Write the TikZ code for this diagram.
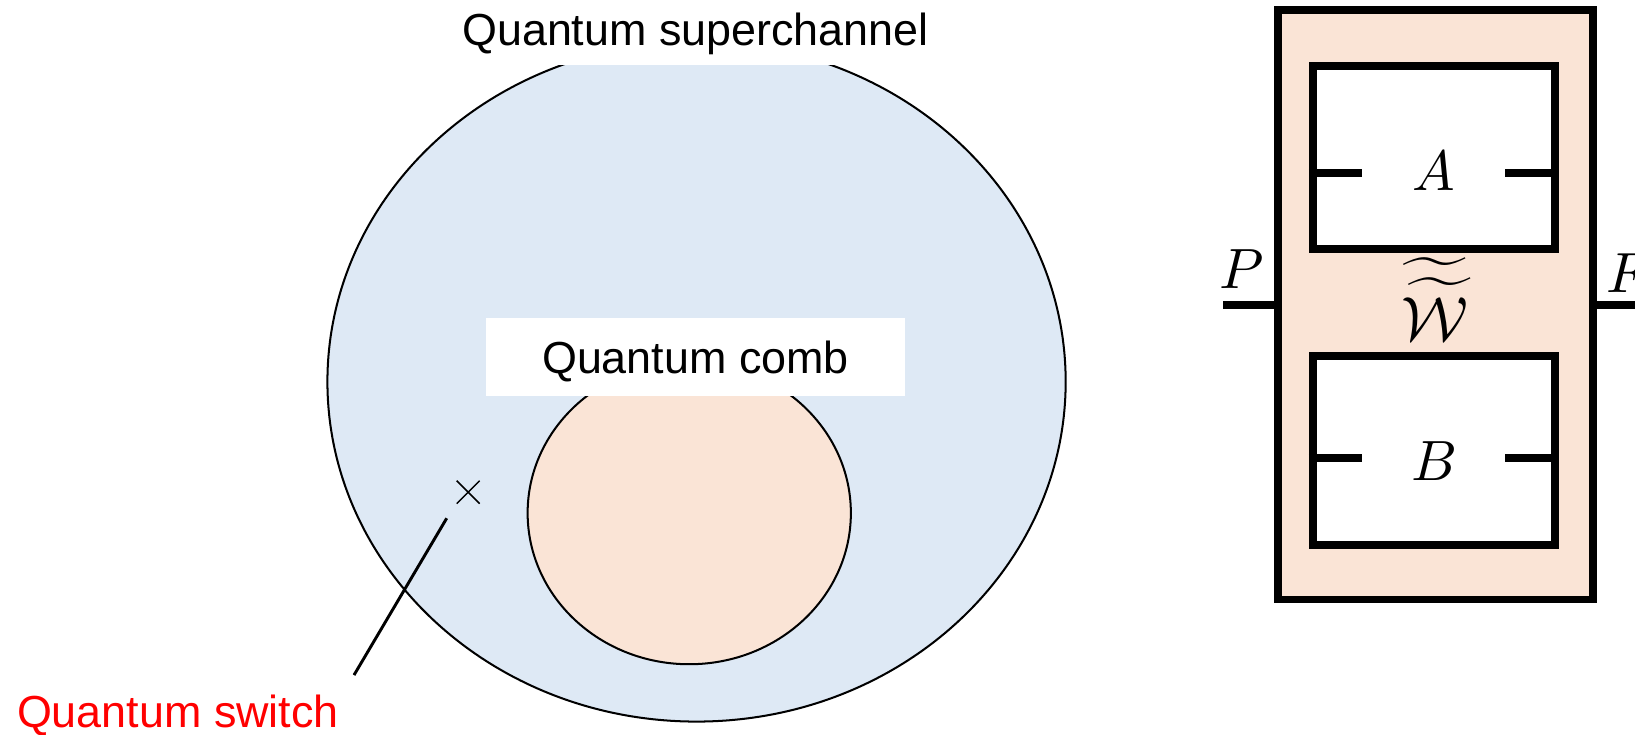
\documentclass[tikz,border=0pt]{standalone}
\usepackage{amsmath}
\usepackage{fontspec}
\newfontfamily\labfont{Liberation Sans}
\usetikzlibrary{shapes.geometric}
\definecolor{supblue}{RGB}{222,233,245}
\definecolor{combpeach}{RGB}{250,228,214}
\begin{document}
\begin{tikzpicture}[x=0.02cm,y=-0.02cm,
  lab/.style={font=\labfont\fontsize{24.5}{29}\selectfont, inner sep=0pt},
  labbox/.style={lab, fill=white, text height=17.5pt, text depth=0pt},
  setline/.style={line width=1.1pt},
  heavy/.style={line width=4.2pt},
  mathlab/.style={inner sep=0pt, scale=3.1}]
\useasboundingbox (0,0) rectangle (1568,704);
\clip (0,0) rectangle (1568,704);

% sets
\draw[setline, fill=supblue] (668,366) ellipse [x radius=354, y radius=326];
\draw[setline, fill=combpeach] (661,492) ellipse [x radius=155, y radius=145];

% labels with white backgrounds
\node[labbox, minimum width=284pt, minimum height=38.7pt] (title) at (667,28) {Quantum superchannel};
\node[labbox, minimum width=228.7pt, minimum height=42.7pt] (comb) at (667,342.5) {Quantum comb};

% quantum switch marker
\coordinate (cross) at (449,472);
\draw[line width=0.8pt] (cross) ++(-11,-11) -- ++(22,22);
\draw[line width=0.8pt] (cross) ++(-11,11) -- ++(22,-22);
\coordinate (ptop) at (428.4,497);
\coordinate (pbot) at (339.5,647.4);
\draw[line width=1.6pt] (ptop) -- (pbot);
\node[lab, text=red, anchor=base west] (switch) at (16,698) {Quantum switch};

% right: process box
\node[draw, heavy, fill=combpeach, minimum width=171.95pt, minimum height=321.8pt, inner sep=0pt] (wbox) at (1376.7,292.25) {};
\node[draw, heavy, fill=white, minimum width=132.2pt, minimum height=99.9pt, inner sep=0pt] (boxA) at (1375.15,151.25) {};
\node[draw, heavy, fill=white, minimum width=132.2pt, minimum height=103.2pt, inner sep=0pt] (boxB) at (1375.15,432.3) {};

\draw[heavy] (boxA.west) ++(0,14.75) -- ++(51,0);
\draw[heavy] (boxA.east) ++(0,14.75) -- ++(-52,0);
\draw[heavy] (boxB.west) ++(0,7) -- ++(51,0);
\draw[heavy] (boxB.east) ++(0,7) -- ++(-52,0);

\node[mathlab] (lA) at (1375,164) {$A$};
\node[mathlab] (lB) at (1376,442) {$B$};
\node[mathlab, scale=1.1] (lW) at (1376,287) {$\widetilde{\widetilde{\mathcal{W}}}$};

\coordinate (pin) at (1173,292.25);
\coordinate (fout) at (1580,292.25);
\draw[heavy] (pin) -- (wbox.west);
\draw[heavy] (wbox.east) -- (fout);
\node[mathlab] (lP) at (1191,258.5) {$P$};
\node[mathlab, anchor=west] (lF) at (1540,261.5) {$F$};
\end{tikzpicture}
\end{document}
